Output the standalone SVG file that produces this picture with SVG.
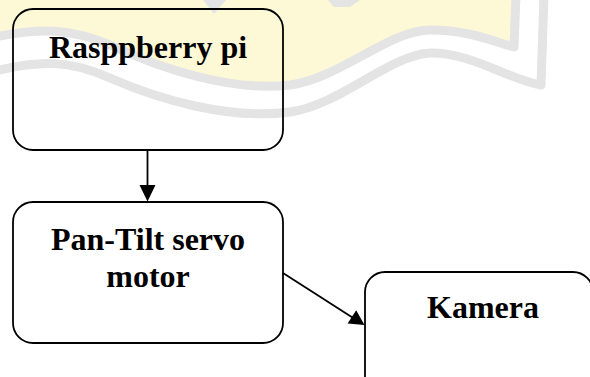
<svg xmlns="http://www.w3.org/2000/svg" width="590" height="377" viewBox="0 0 590 377">
  <style>
    .box { fill: none; stroke: #000; stroke-width: 1.8; }
    .lbl { font-family: "Liberation Serif", "Times New Roman", serif; font-weight: bold; font-size: 32px; fill: #000; text-anchor: middle; }
    .edge { stroke: #000; stroke-width: 1.8; fill: none; }
    .head { fill: #000; stroke: none; }
    .wm-band { fill: none; stroke: #e4e4e4; stroke-width: 9; stroke-linejoin: round; }
  </style>
  <rect width="590" height="377" fill="#ffffff"/>
  <g id="watermark">
    <path d="M0,0 L512,0 L512,46 C495,42 470,30 430,30 C390,30 340,78 290,85 C230,92 160,68 110,45 C70,28 40,28 0,37 Z" fill="#fdf9d6"/>
    <path class="wm-band" d="M-5,37 C40,28 70,28 110,45 C160,68 230,92 290,85 C340,78 390,30 430,30 C470,30 495,42 514,47 L516,-5"/>
    <path class="wm-band" d="M-5,71 C40,60 70,60 110,78 C160,100 230,120 290,112 C340,105 390,55 430,53 C470,52 510,80 541,85 L544,-5"/>
    <path d="M203,0 L214,14 L226,0 Z" fill="#e4e4e4"/>
    <path d="M328,0 L334,7 L350,7 L360,0 Z" fill="#e4e4e4"/>
  </g>
  <g id="connectors">
    <line class="edge" x1="147.5" y1="150" x2="147.5" y2="187"/>
    <polygon class="head" points="139.5,185 155.5,185 147.5,201.5"/>
    <line class="edge" x1="283" y1="273" x2="354" y2="318.5"/>
    <polygon class="head" points="347.6,323.6 356.2,310.2 364.5,325"/>
  </g>
  <g id="raspberry">
    <rect class="box" x="13" y="9" width="270" height="141" rx="20" ry="20"/>
    <text class="lbl" x="148" y="58">Rasppberry pi</text>
  </g>
  <g id="pantilt">
    <rect class="box" x="13" y="202" width="270" height="141" rx="20" ry="20"/>
    <text class="lbl" x="148" y="250">Pan-Tilt servo</text>
    <text class="lbl" x="148" y="287">motor</text>
  </g>
  <g id="kamera">
    <rect class="box" x="365" y="272" width="228" height="130" rx="20" ry="20"/>
    <text class="lbl" x="483" y="318">Kamera</text>
  </g>
</svg>
